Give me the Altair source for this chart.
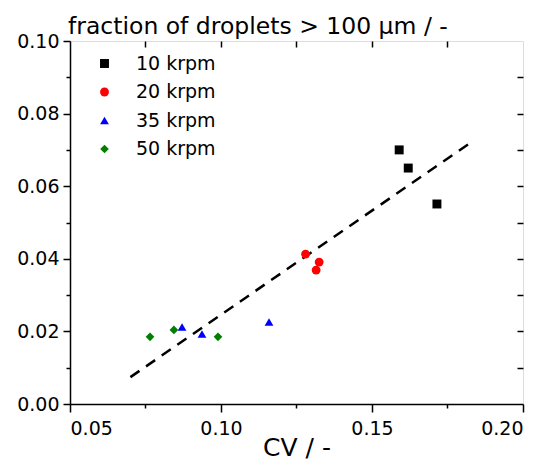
import altair as alt
import pandas as pd

series = ["10 krpm", "20 krpm", "35 krpm", "50 krpm"]
cv_10 = [0.159, 0.162, 0.1715]
frac_10 = [0.0700, 0.0650, 0.0551]
cv_20 = [0.128, 0.1325, 0.1315]
frac_20 = [0.0413, 0.0391, 0.0369]
cv_35 = [0.0871, 0.0937, 0.1159]
frac_35 = [0.0212, 0.0193, 0.0226]
cv_50 = [0.0765, 0.0844, 0.0990]
frac_50 = [0.0185, 0.0204, 0.0185]

fit_cv = [0.070, 0.183]
fit_frac = [0.0074, 0.0722]

x_major = [0.05, 0.10, 0.15, 0.20]
x_minor = [0.075, 0.125, 0.175]
x_top = [0.075, 0.10, 0.125, 0.15, 0.175]
y_major = [0.00, 0.02, 0.04, 0.06, 0.08, 0.10]
y_minor = [0.01, 0.03, 0.05, 0.07, 0.09]
y_right = [0.01, 0.02, 0.03, 0.04, 0.05, 0.06, 0.07, 0.08, 0.09]

shapes = ["square", "circle", "triangle-up", "diamond"]
colors = ["#000000", "#ff0000", "#0000ff", "#008000"]
sizes = [80, 75, 140, 130]

rows = []
for name, xs, ys in zip(series, [cv_10, cv_20, cv_35, cv_50], [frac_10, frac_20, frac_35, frac_50]):
    for xv, yv in zip(xs, ys):
        rows.append({"series": name, "cv": xv, "frac": yv})
df = pd.DataFrame(rows)
fit_df = pd.DataFrame({"cv": fit_cv, "frac": fit_frac})

FONT = "DejaVu Sans"
x_scale = alt.Scale(domain=[0.05, 0.20], nice=False, zero=False)
y_scale = alt.Scale(domain=[0.0, 0.10], nice=False, zero=False)

common = dict(grid=False, tickColor="black", domainColor="black", labelColor="black",
              titleColor="black", tickWidth=1.5, domainWidth=1.5, labelFont=FONT, titleFont=FONT)

legend = alt.Legend(title=None, orient="none", legendX=25, legendY=13, labelFont=FONT,
                    labelFontSize=19, labelColor="black", labelOffset=22, rowPadding=8.5,
                    symbolSize=115, symbolStrokeWidth=0, padding=0)

points = alt.Chart(df).mark_point(filled=True, opacity=1, strokeWidth=0).encode(
    x=alt.X("cv:Q", scale=x_scale,
            axis=alt.Axis(orient="bottom", values=x_major, format=".2f", title="CV / -",
                          tickSize=8, labelPadding=7, titlePadding=-3, labelFontSize=19,
                          titleFontSize=25, titleFontWeight="normal", **common)),
    y=alt.Y("frac:Q", scale=y_scale,
            axis=alt.Axis(orient="left", values=y_major, format=".2f", title=None,
                          tickSize=7, labelPadding=4, labelFontSize=19, **common)),
    shape=alt.Shape("series:N", scale=alt.Scale(domain=series, range=shapes), legend=legend),
    color=alt.Color("series:N", scale=alt.Scale(domain=series, range=colors), legend=legend),
    size=alt.Size("series:N", scale=alt.Scale(domain=series, range=sizes), legend=None),
)

fit = alt.Chart(fit_df).mark_line(color="black", strokeDash=[11, 8], strokeWidth=2.5).encode(
    x=alt.X("cv:Q", scale=x_scale,
            axis=alt.Axis(orient="bottom", values=x_minor, labels=False, tickSize=4,
                          domain=False, title=None, **common)),
    y=alt.Y("frac:Q", scale=y_scale,
            axis=alt.Axis(orient="left", values=y_minor, labels=False, tickSize=4,
                          domain=False, title=None, **common)),
)

frame = alt.Chart(fit_df).mark_line(opacity=0).encode(
    x=alt.X("cv:Q", scale=x_scale,
            axis=alt.Axis(orient="top", values=x_top, labels=False, tickSize=6, offset=-6,
                          domain=False, title=None, **common)),
    y=alt.Y("frac:Q", scale=y_scale,
            axis=alt.Axis(orient="right", values=y_right, labels=False, tickSize=6, offset=-6,
                          domain=False, title=None, **common)),
)

chart = alt.layer(frame, fit, points).resolve_axis(
    x="independent", y="independent"
).properties(
    width=453, height=363,
    autosize=alt.AutoSizeParams(type="none"),
    padding={"left": 62, "top": 33, "right": 14, "bottom": 56},
    title=alt.TitleParams(text="fraction of droplets > 100 μm / -", anchor="start", frame="group",
                          offset=4, dy=10, fontSize=23.5, font=FONT, fontWeight="normal",
                          color="black", dx=-2),
).configure_view(stroke="black", strokeWidth=1.5).configure(background="white")

chart.save("out.html", embed_options={"renderer": "svg", "actions": False})
